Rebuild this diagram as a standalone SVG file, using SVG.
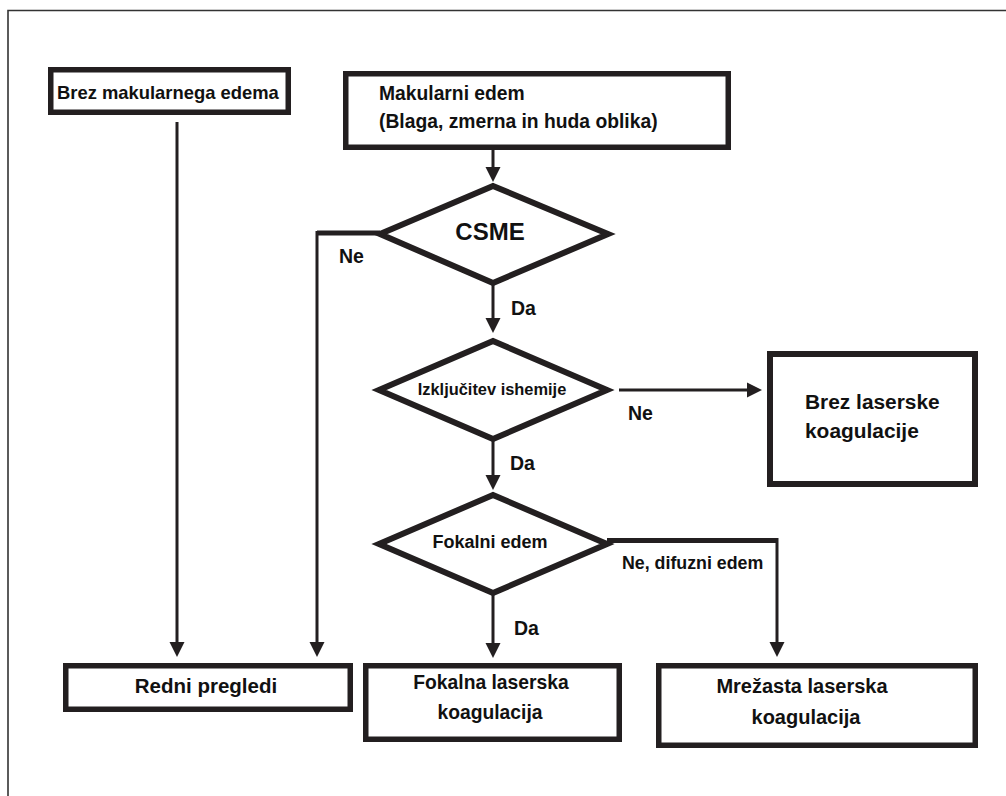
<svg xmlns="http://www.w3.org/2000/svg" width="1006" height="796" viewBox="0 0 1006 796">
<defs>
<style>
.box{fill:#fff;stroke:#231f20;stroke-width:5.5}
.dia{fill:#fff;stroke:#231f20;stroke-width:6;stroke-linejoin:miter}
.ln{fill:none;stroke:#231f20;stroke-width:3}
.th{fill:none;stroke:#231f20;stroke-width:5}
text{font-family:"Liberation Sans",Arial,sans-serif;font-weight:bold;fill:#111}
.c{text-anchor:middle}
</style>
<marker id="ah" markerUnits="userSpaceOnUse" markerWidth="16" markerHeight="16" refX="0" refY="7.5" orient="auto" viewBox="0 0 16 15">
<path d="M0,0 L15,7.5 L0,15 z" fill="#231f20"/>
</marker>
</defs>
<rect width="1006" height="796" fill="#fff"/>
<path d="M8,796 V10.5 H1006" fill="none" stroke="#333" stroke-width="1.6"/>

<g id="connectors">
<path class="ln" d="M493,150 V167" marker-end="url(#ah)"/>
<path class="th" d="M380,233 H317"/>
<path class="ln" d="M317,231 V642" marker-end="url(#ah)"/>
<path class="ln" d="M177,122 V642" marker-end="url(#ah)"/>
<path class="ln" d="M493,285 V318" marker-end="url(#ah)"/>
<path class="ln" d="M619,390 H747" marker-end="url(#ah)"/>
<path class="ln" d="M493,441 V475" marker-end="url(#ah)"/>
<path class="th" d="M607,540.5 H778"/>
<path class="ln" d="M777,538 V642" marker-end="url(#ah)"/>
<path class="ln" d="M493,595 V643" marker-end="url(#ah)"/>
<text x="339" y="263" font-size="19.5">Ne</text>
<text x="511" y="315" font-size="19.5">Da</text>
<text x="628" y="420" font-size="19.5">Ne</text>
<text x="510" y="470" font-size="19.5">Da</text>
<text x="514" y="635" font-size="19.5">Da</text>
<text x="622" y="569" font-size="17.8">Ne, difuzni edem</text>
</g>

<g id="brez-makularnega">
<rect class="box" x="50.75" y="69.75" width="237.5" height="42.5"/>
<text x="57" y="99" font-size="18.4">Brez makularnega edema</text>
</g>

<g id="makularni-edem">
<rect class="box" x="345.75" y="73.75" width="382.5" height="73.5"/>
<text x="379" y="100" font-size="19.3">Makularni edem</text>
<text x="379" y="128" font-size="19.3">(Blaga, zmerna in huda oblika)</text>
</g>

<g id="csme">
<polygon class="dia" points="493,186 608,234 493,283 380,234"/>
<text class="c" x="490" y="240" font-size="24">CSME</text>
</g>

<g id="izkljucitev">
<polygon class="dia" points="493,341 607,390 493,439 379,390"/>
<text class="c" x="492" y="395" font-size="16.4">Izključitev ishemije</text>
</g>

<g id="brez-laserske">
<rect x="770" y="354" width="205" height="130" fill="#fff" stroke="#231f20" stroke-width="6"/>
<text x="805" y="409" font-size="20.9">Brez laserske</text>
<text x="805" y="438" font-size="20.9">koagulacije</text>
</g>

<g id="fokalni-edem">
<polygon class="dia" points="493,495 607,544 493,593 379,544"/>
<text class="c" x="490" y="548" font-size="18">Fokalni edem</text>
</g>

<g id="redni-pregledi">
<rect class="box" x="65.75" y="665.75" width="284.5" height="43.5"/>
<text class="c" x="206" y="693" font-size="20.5">Redni pregledi</text>
</g>

<g id="fokalna-laserska">
<rect class="box" x="365.75" y="665.75" width="253.5" height="73.5"/>
<text class="c" x="491" y="689" font-size="19.3">Fokalna laserska</text>
<text class="c" x="490" y="719" font-size="19.3">koagulacija</text>
</g>

<g id="mrezasta-laserska">
<rect class="box" x="658.75" y="665.75" width="316.5" height="79.5"/>
<text class="c" x="802" y="693" font-size="20">Mrežasta laserska</text>
<text class="c" x="806" y="724" font-size="20">koagulacija</text>
</g>
</svg>
